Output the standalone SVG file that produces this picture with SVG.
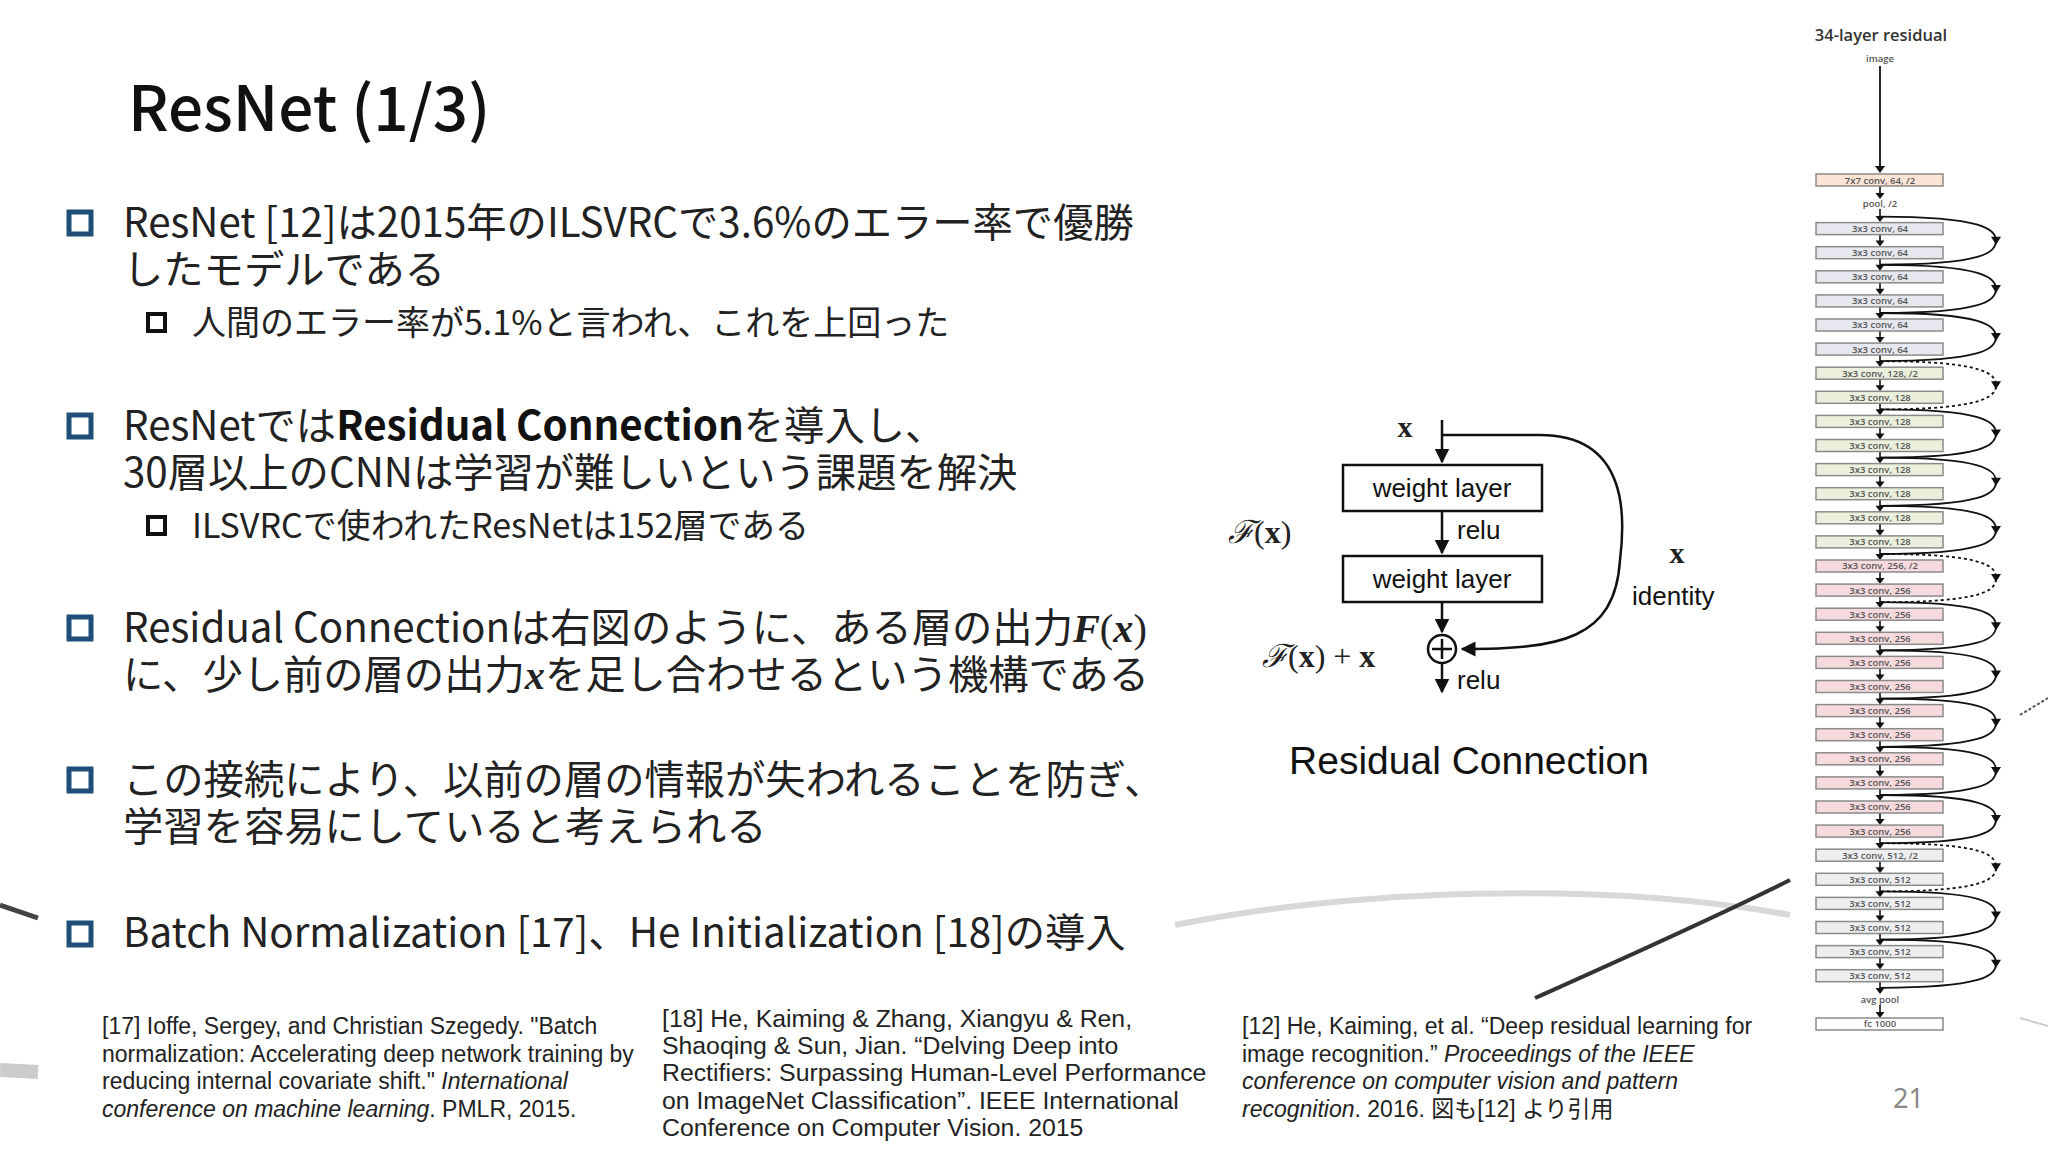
<svg xmlns="http://www.w3.org/2000/svg" xmlns:xlink="http://www.w3.org/1999/xlink" width="2048" height="1152" viewBox="0 0 2048 1152">
<style>
.jp{font-family:"Noto Sans CJK JP","Noto Sans",sans-serif;fill:#222}
.b1{font-size:40.3px}
.b2{font-size:34px}
.sq{fill:none;stroke:#1f4e79;stroke-width:5}
.sq2{fill:none;stroke:#111;stroke-width:4}
.ref{font-family:"Liberation Sans",Arial,sans-serif;font-size:23px;fill:#222}
.r18{font-size:24.8px}
.box{stroke:#8a8a8a;stroke-width:1.5}
.bt{font-family:"Open Sans","Liberation Sans",sans-serif;font-size:9.5px;font-weight:600;fill:#555;text-anchor:middle}
.arc{fill:none;stroke:#111;stroke-width:1.8}
.dash{stroke-dasharray:3 3}
.wl{fill:#fff;stroke:#111;stroke-width:2.5}
.ln{stroke:#111;stroke-width:2.5;fill:none}
.rt{font-family:"Liberation Sans",Arial,sans-serif;font-size:26px;fill:#111}
.m{font-family:"Liberation Serif","DejaVu Serif",serif;fill:#222}
</style>
<defs>
<marker id="ah" viewBox="0 0 10 10" refX="9" refY="5" markerWidth="6" markerHeight="6" orient="auto"><path d="M0,0 L10,5 L0,10 Z" fill="#111"/></marker>
<g id="dn"><path d="M0,-7 V3" stroke="#111" stroke-width="1.6"/><path d="M-4.5,0 L4.5,0 L0,6 Z" fill="#111"/></g>
<path id="ad" d="M-5,-4 L5,-4 L0,4 Z" fill="#111"/>
</defs>
<rect width="2048" height="1152" fill="#fff"/>

<g id="deco" fill="none">
<path d="M1175,925 C1350,890 1600,880 1790,915" stroke="#d8d8d8" stroke-width="6"/>
<path d="M1535,998 C1620,960 1710,920 1790,880" stroke="#333" stroke-width="4"/>
<path d="M0,905 L38,918" stroke="#444" stroke-width="5"/>
<path d="M0,1070 L38,1072" stroke="#ccc" stroke-width="14"/>
<path d="M2020,715 L2048,698" stroke="#555" stroke-width="2" stroke-dasharray="3 2"/>
<path d="M2020,1018 L2048,1026" stroke="#ccc" stroke-width="2"/>
</g>

<g id="title"><text x="128" y="131" font-family="Noto Sans CJK JP,Noto Sans,sans-serif" font-size="62" font-weight="500" fill="#111">ResNet (1/3)</text></g>

<g id="bullets">
<rect class="sq" x="69" y="212" width="22" height="22"/>
<text class="jp b1" x="123" y="237">ResNet [12]は2015年のILSVRCで3.6%のエラー率で優勝</text>
<text class="jp b1" x="123" y="284">したモデルである</text>
<rect class="sq2" x="148" y="314" width="17" height="17"/>
<text class="jp b2" x="192" y="335">人間のエラー率が5.1%と言われ、これを上回った</text>

<rect class="sq" x="69" y="415" width="22" height="22"/>
<text class="jp b1" x="123" y="440">ResNetでは<tspan font-weight="bold" fill="#111">Residual Connection</tspan>を導入し、</text>
<text class="jp b1" x="123" y="487">30層以上のCNNは学習が難しいという課題を解決</text>
<rect class="sq2" x="148" y="517" width="17" height="17"/>
<text class="jp b2" x="192" y="538">ILSVRCで使われたResNetは152層である</text>

<rect class="sq" x="69" y="617" width="22" height="22"/>
<text class="jp b1" x="123" y="642">Residual Connectionは右図のように、ある層の出力<tspan class="m" font-style="italic" font-weight="bold">F</tspan><tspan class="m">(</tspan><tspan class="m" font-style="italic" font-weight="bold">x</tspan><tspan class="m">)</tspan></text>
<text class="jp b1" x="123" y="689">に、少し前の層の出力<tspan class="m" font-style="italic" font-weight="bold">x</tspan>を足し合わせるという機構である</text>

<rect class="sq" x="69" y="769" width="22" height="22"/>
<text class="jp b1" x="123" y="794">この接続により、以前の層の情報が失われることを防ぎ、</text>
<text class="jp b1" x="123" y="841">学習を容易にしていると考えられる</text>

<rect class="sq" x="69" y="923" width="22" height="22"/>
<text class="jp b1" x="123" y="947">Batch Normalization [17]、He Initialization [18]の導入</text>
</g>

<g id="refs">
<text class="ref" x="102" y="1034">[17] Ioffe, Sergey, and Christian Szegedy. "Batch</text>
<text class="ref" x="102" y="1062">normalization: Accelerating deep network training by</text>
<text class="ref" x="102" y="1089">reducing internal covariate shift." <tspan font-style="italic">International</tspan></text>
<text class="ref" x="102" y="1117"><tspan font-style="italic">conference on machine learning</tspan>. PMLR, 2015.</text>
<text class="ref r18" x="662" y="1027">[18] He, Kaiming &amp; Zhang, Xiangyu &amp; Ren,</text>
<text class="ref r18" x="662" y="1054">Shaoqing &amp; Sun, Jian. “Delving Deep into</text>
<text class="ref r18" x="662" y="1081">Rectifiers: Surpassing Human-Level Performance</text>
<text class="ref r18" x="662" y="1109">on ImageNet Classification”. IEEE International</text>
<text class="ref r18" x="662" y="1136">Conference on Computer Vision. 2015</text>
<text class="ref" x="1242" y="1034">[12] He, Kaiming, et al. “Deep residual learning for</text>
<text class="ref" x="1242" y="1062">image recognition.” <tspan font-style="italic">Proceedings of the IEEE</tspan></text>
<text class="ref" x="1242" y="1089" font-style="italic">conference on computer vision and pattern</text>
<text class="ref" x="1242" y="1117" style="font-family:'Liberation Sans','Noto Sans CJK JP',sans-serif"><tspan font-style="italic">recognition</tspan>. 2016. 図も[12] より引用</text>
<text x="1893" y="1108" font-family="Noto Sans,sans-serif" font-size="27" fill="#888">21</text>
</g>

<g id="resblock">
<g id="connectors-rb">
<path class="ln" d="M1442,420 V462" marker-end="url(#ah)"/>
<path class="ln" d="M1442,511 V553" marker-end="url(#ah)"/>
<path class="ln" d="M1442,602 V632" marker-end="url(#ah)"/>
<path class="ln" d="M1442,664 V692" marker-end="url(#ah)"/>
<path class="ln" d="M1442,435 H1540 C1630,435 1625,520 1620,560 C1615,640 1560,649 1462,649" marker-end="url(#ah)"/>
</g>
<g id="wl1"><rect class="wl" x="1343" y="465" width="199" height="46"/><text class="rt" x="1442" y="497" text-anchor="middle">weight layer</text></g>
<g id="wl2"><rect class="wl" x="1343" y="556" width="199" height="46"/><text class="rt" x="1442" y="588" text-anchor="middle">weight layer</text></g>
<g id="plus"><circle cx="1442" cy="649" r="14" fill="#fff" stroke="#111" stroke-width="2.5"/><path d="M1432,649 H1452 M1442,639 V659" stroke="#111" stroke-width="2.5"/></g>
<text class="m" x="1405" y="437" font-size="30" font-weight="bold" text-anchor="middle">x</text>
<text class="rt" x="1457" y="539">relu</text>
<text class="rt" x="1457" y="689">relu</text>
<text class="m" x="1228" y="543" font-size="32"><tspan font-style="italic" font-family="DejaVu Serif,serif">ℱ</tspan>(<tspan font-weight="bold">x</tspan>)</text>
<text class="m" x="1262" y="667" font-size="32"><tspan font-style="italic" font-family="DejaVu Serif,serif">ℱ</tspan>(<tspan font-weight="bold">x</tspan>) + <tspan font-weight="bold">x</tspan></text>
<text class="m" x="1677" y="563" font-size="30" font-weight="bold" text-anchor="middle">x</text>
<text class="rt" x="1632" y="605">identity</text>
<text x="1469" y="774" font-family="Liberation Sans,Arial,sans-serif" font-size="39" fill="#111" text-anchor="middle">Residual Connection</text>
</g>

<g id="resnet34">
<text x="1881" y="41" font-family="Open Sans,Liberation Sans,sans-serif" font-size="16.5" font-weight="600" fill="#333" text-anchor="middle">34-layer residual</text>
<text x="1880" y="62" class="bt">image</text>
<g id="col-connectors">
<path d="M1880,66 V168" stroke="#111" stroke-width="1.8"/><path d="M1875,166 L1885,166 L1880,173 Z" fill="#111"/>
<use href="#dn" x="1880" y="193"/>
<use href="#dn" x="1880" y="216"/>
<use href="#dn" x="1880" y="240.6"/><use href="#dn" x="1880" y="264.7"/><use href="#dn" x="1880" y="288.8"/><use href="#dn" x="1880" y="312.9"/><use href="#dn" x="1880" y="337"/><use href="#dn" x="1880" y="361.1"/><use href="#dn" x="1880" y="385.2"/><use href="#dn" x="1880" y="409.3"/><use href="#dn" x="1880" y="433.4"/><use href="#dn" x="1880" y="457.5"/><use href="#dn" x="1880" y="481.6"/><use href="#dn" x="1880" y="505.7"/><use href="#dn" x="1880" y="529.8"/><use href="#dn" x="1880" y="553.9"/><use href="#dn" x="1880" y="578"/><use href="#dn" x="1880" y="602.1"/><use href="#dn" x="1880" y="626.2"/><use href="#dn" x="1880" y="650.3"/><use href="#dn" x="1880" y="674.4"/><use href="#dn" x="1880" y="698.5"/><use href="#dn" x="1880" y="722.6"/><use href="#dn" x="1880" y="746.7"/><use href="#dn" x="1880" y="770.8"/><use href="#dn" x="1880" y="794.9"/><use href="#dn" x="1880" y="819"/><use href="#dn" x="1880" y="843.1"/><use href="#dn" x="1880" y="867.2"/><use href="#dn" x="1880" y="891.3"/><use href="#dn" x="1880" y="915.4"/><use href="#dn" x="1880" y="939.5"/><use href="#dn" x="1880" y="963.6"/>
<use href="#dn" x="1880" y="988"/><use href="#dn" x="1880" y="1012"/>
<path class="arc" d="M1880,216.6 C1985,216.6 1996,230 1996,240.7 C1996,252 1985,264.7 1880,264.7"/><use href="#ad" x="1996" y="240.7"/>
<path class="arc" d="M1880,264.8 C1985,264.8 1996,278 1996,288.9 C1996,300 1985,313 1880,313"/><use href="#ad" x="1996" y="288.9"/>
<path class="arc" d="M1880,313 C1985,313 1996,326 1996,337 C1996,348 1985,361.1 1880,361.1"/><use href="#ad" x="1996" y="337"/>
<path class="arc dash" d="M1880,361.2 C1985,361.2 1996,374 1996,385.3 C1996,396 1985,409.4 1880,409.4"/><use href="#ad" x="1996" y="385.3"/>
<path class="arc" d="M1880,409.4 C1985,409.4 1996,422 1996,433.5 C1996,445 1985,457.6 1880,457.6"/><use href="#ad" x="1996" y="433.5"/>
<path class="arc" d="M1880,457.6 C1985,457.6 1996,470 1996,481.7 C1996,493 1985,505.8 1880,505.8"/><use href="#ad" x="1996" y="481.7"/>
<path class="arc" d="M1880,505.8 C1985,505.8 1996,518 1996,529.9 C1996,541 1985,554 1880,554"/><use href="#ad" x="1996" y="529.9"/>
<path class="arc dash" d="M1880,554 C1985,554 1996,566 1996,578.1 C1996,590 1985,602.2 1880,602.2"/><use href="#ad" x="1996" y="578.1"/>
<path class="arc" d="M1880,602.2 C1985,602.2 1996,614 1996,626.3 C1996,638 1985,650.4 1880,650.4"/><use href="#ad" x="1996" y="626.3"/>
<path class="arc" d="M1880,650.4 C1985,650.4 1996,662 1996,674.5 C1996,686 1985,698.6 1880,698.6"/><use href="#ad" x="1996" y="674.5"/>
<path class="arc" d="M1880,698.6 C1985,698.6 1996,710 1996,722.7 C1996,734 1985,746.8 1880,746.8"/><use href="#ad" x="1996" y="722.7"/>
<path class="arc" d="M1880,746.8 C1985,746.8 1996,758 1996,770.9 C1996,782 1985,795 1880,795"/><use href="#ad" x="1996" y="770.9"/>
<path class="arc" d="M1880,795 C1985,795 1996,807 1996,819.1 C1996,831 1985,843.2 1880,843.2"/><use href="#ad" x="1996" y="819.1"/>
<path class="arc dash" d="M1880,843.2 C1985,843.2 1996,855 1996,867.3 C1996,879 1985,891.4 1880,891.4"/><use href="#ad" x="1996" y="867.3"/>
<path class="arc" d="M1880,891.4 C1985,891.4 1996,903 1996,915.5 C1996,927 1985,939.6 1880,939.6"/><use href="#ad" x="1996" y="915.5"/>
<path class="arc" d="M1880,939.6 C1985,939.6 1996,951 1996,963.7 C1996,975 1985,987.8 1880,987.8"/><use href="#ad" x="1996" y="963.7"/>
</g>
<g id="c7"><rect class="box" x="1816" y="174" width="127" height="12" fill="#fbe4d5"/><text class="bt" x="1880" y="183.5">7x7 conv, 64, /2</text></g>
<text class="bt" x="1880" y="207">pool, /2</text>
<g fill="#e7e7f0">
<g id="r0"><rect class="box" x="1816" y="222.6" width="127" height="12"/><text class="bt" x="1880" y="232">3x3 conv, 64</text></g>
<g id="r1"><rect class="box" x="1816" y="246.7" width="127" height="12"/><text class="bt" x="1880" y="256.1">3x3 conv, 64</text></g>
<g id="r2"><rect class="box" x="1816" y="270.8" width="127" height="12"/><text class="bt" x="1880" y="280.2">3x3 conv, 64</text></g>
<g id="r3"><rect class="box" x="1816" y="294.9" width="127" height="12"/><text class="bt" x="1880" y="304.3">3x3 conv, 64</text></g>
<g id="r4"><rect class="box" x="1816" y="319" width="127" height="12"/><text class="bt" x="1880" y="328.4">3x3 conv, 64</text></g>
<g id="r5"><rect class="box" x="1816" y="343.1" width="127" height="12"/><text class="bt" x="1880" y="352.5">3x3 conv, 64</text></g>
</g>
<g fill="#eaf0dc">
<g id="r6"><rect class="box" x="1816" y="367.2" width="127" height="12"/><text class="bt" x="1880" y="376.6">3x3 conv, 128, /2</text></g>
<g id="r7"><rect class="box" x="1816" y="391.3" width="127" height="12"/><text class="bt" x="1880" y="400.7">3x3 conv, 128</text></g>
<g id="r8"><rect class="box" x="1816" y="415.4" width="127" height="12"/><text class="bt" x="1880" y="424.8">3x3 conv, 128</text></g>
<g id="r9"><rect class="box" x="1816" y="439.5" width="127" height="12"/><text class="bt" x="1880" y="448.9">3x3 conv, 128</text></g>
<g id="r10"><rect class="box" x="1816" y="463.6" width="127" height="12"/><text class="bt" x="1880" y="473">3x3 conv, 128</text></g>
<g id="r11"><rect class="box" x="1816" y="487.7" width="127" height="12"/><text class="bt" x="1880" y="497.1">3x3 conv, 128</text></g>
<g id="r12"><rect class="box" x="1816" y="511.8" width="127" height="12"/><text class="bt" x="1880" y="521.2">3x3 conv, 128</text></g>
<g id="r13"><rect class="box" x="1816" y="535.9" width="127" height="12"/><text class="bt" x="1880" y="545.3">3x3 conv, 128</text></g>
</g>
<g fill="#f6dadd">
<g id="r14"><rect class="box" x="1816" y="560" width="127" height="12"/><text class="bt" x="1880" y="569.4">3x3 conv, 256, /2</text></g>
<g id="r15"><rect class="box" x="1816" y="584.1" width="127" height="12"/><text class="bt" x="1880" y="593.5">3x3 conv, 256</text></g>
<g id="r16"><rect class="box" x="1816" y="608.2" width="127" height="12"/><text class="bt" x="1880" y="617.6">3x3 conv, 256</text></g>
<g id="r17"><rect class="box" x="1816" y="632.3" width="127" height="12"/><text class="bt" x="1880" y="641.7">3x3 conv, 256</text></g>
<g id="r18"><rect class="box" x="1816" y="656.4" width="127" height="12"/><text class="bt" x="1880" y="665.8">3x3 conv, 256</text></g>
<g id="r19"><rect class="box" x="1816" y="680.5" width="127" height="12"/><text class="bt" x="1880" y="689.9">3x3 conv, 256</text></g>
<g id="r20"><rect class="box" x="1816" y="704.6" width="127" height="12"/><text class="bt" x="1880" y="714">3x3 conv, 256</text></g>
<g id="r21"><rect class="box" x="1816" y="728.7" width="127" height="12"/><text class="bt" x="1880" y="738.1">3x3 conv, 256</text></g>
<g id="r22"><rect class="box" x="1816" y="752.8" width="127" height="12"/><text class="bt" x="1880" y="762.2">3x3 conv, 256</text></g>
<g id="r23"><rect class="box" x="1816" y="776.9" width="127" height="12"/><text class="bt" x="1880" y="786.3">3x3 conv, 256</text></g>
<g id="r24"><rect class="box" x="1816" y="801" width="127" height="12"/><text class="bt" x="1880" y="810.4">3x3 conv, 256</text></g>
<g id="r25"><rect class="box" x="1816" y="825.1" width="127" height="12"/><text class="bt" x="1880" y="834.5">3x3 conv, 256</text></g>
</g>
<g fill="#eceef0">
<g id="r26"><rect class="box" x="1816" y="849.2" width="127" height="12"/><text class="bt" x="1880" y="858.6">3x3 conv, 512, /2</text></g>
<g id="r27"><rect class="box" x="1816" y="873.3" width="127" height="12"/><text class="bt" x="1880" y="882.7">3x3 conv, 512</text></g>
<g id="r28"><rect class="box" x="1816" y="897.4" width="127" height="12"/><text class="bt" x="1880" y="906.8">3x3 conv, 512</text></g>
<g id="r29"><rect class="box" x="1816" y="921.5" width="127" height="12"/><text class="bt" x="1880" y="930.9">3x3 conv, 512</text></g>
<g id="r30"><rect class="box" x="1816" y="945.6" width="127" height="12"/><text class="bt" x="1880" y="955">3x3 conv, 512</text></g>
<g id="r31"><rect class="box" x="1816" y="969.7" width="127" height="12"/><text class="bt" x="1880" y="979.1">3x3 conv, 512</text></g>
</g>
<text class="bt" x="1880" y="1003">avg pool</text>
<g id="fc"><rect class="box" x="1816" y="1018" width="127" height="12" fill="#fff"/><text class="bt" x="1880" y="1027.4">fc 1000</text></g>
</g>
</svg>
